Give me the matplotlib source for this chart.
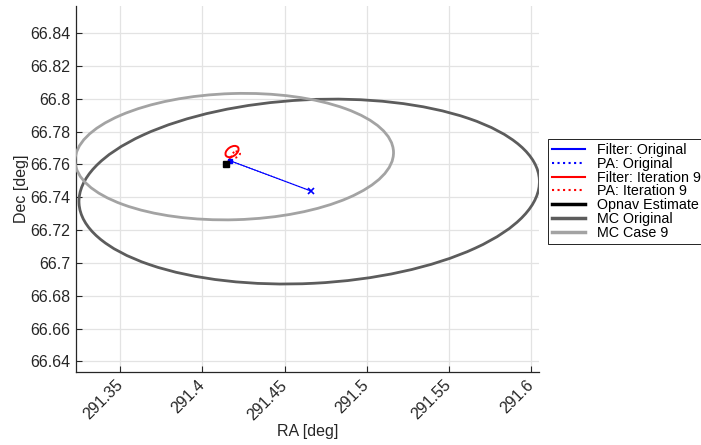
import numpy as np
import matplotlib
matplotlib.use('Agg')
from matplotlib import pyplot as plt
from matplotlib.patches import Ellipse
from matplotlib.lines import Line2D

plt.rcParams['font.family'] = ['Liberation Sans', 'DejaVu Sans']
plt.rcParams['font.size'] = 11.5

# MC covariance ellipses: center (RA, Dec) and covariance entries [xx, yy, xy]
mc_orig_center = [291.465, 66.7435]
mc_orig_cov = [0.01966, 0.003175, 0.000841]
mc_case9_center = [291.4194, 66.7648]
mc_case9_cov = [0.0094, 0.001486, 0.000233]

# filter / prediction tracks
filt_orig_ra = [291.4165, 291.4662]
filt_orig_dec = [66.7624, 66.7438]
pa_orig_ra = [291.4165, 291.4662]
pa_orig_dec = [66.7624, 66.7438]
filt_it9_ra = [291.4150, 291.4163, 291.4176]
filt_it9_dec = [66.7612, 66.7630, 66.7650]
filt_it9_center = [291.4180, 66.7679]
filt_it9_cov = [1.6e-5, 1.18e-5, 5.7e-6]
pa_it9_center = [291.4202, 66.7660]
pa_it9_cov = [7.0e-6, 4.0e-6, 2.0e-6]

opnav_ra = [291.4146]
opnav_dec = [66.7603]

xticks = [291.35, 291.4, 291.45, 291.5, 291.55, 291.6]
yticks = [66.64, 66.66, 66.68, 66.7, 66.72, 66.74, 66.76, 66.78, 66.8, 66.82, 66.84]


def cov_ellipse(center, cov, **kw):
    S = np.array([[cov[0], cov[2]], [cov[2], cov[1]]])
    vals, vecs = np.linalg.eigh(S)
    ang = np.degrees(np.arctan2(vecs[1, 1], vecs[0, 1]))
    return Ellipse(center, 2 * np.sqrt(vals[1]), 2 * np.sqrt(vals[0]),
                   angle=ang, fill=False, **kw)


fig = plt.figure(figsize=(7.01, 4.45), dpi=100)
ax = fig.add_axes([0.108, 0.1647, 0.661, 0.8218])

c_dark = '#5c5c5c'
c_light = '#a3a3a3'

ax.add_patch(cov_ellipse(mc_orig_center, mc_orig_cov, color=c_dark, lw=2.0, zorder=3))
ax.add_patch(cov_ellipse(mc_case9_center, mc_case9_cov, color=c_light, lw=2.0, zorder=3))

ax.plot(filt_orig_ra, filt_orig_dec, '-', color='blue', lw=0.8, zorder=4)
ax.plot(pa_orig_ra, pa_orig_dec, ':', color='blue', lw=0.8, zorder=4)
ax.plot(filt_orig_ra[-1:], filt_orig_dec[-1:], 'x', color='blue', ms=4, mew=1.2, zorder=4)
ax.plot(filt_orig_ra[:1], filt_orig_dec[:1], 's', color='blue', ms=3, zorder=5)

ax.plot(filt_it9_ra, filt_it9_dec, '-', color='red', lw=1.0, zorder=4)
ax.add_patch(cov_ellipse(filt_it9_center, filt_it9_cov, color='red', lw=1.4, zorder=4))
ax.add_patch(cov_ellipse(pa_it9_center, pa_it9_cov, color='red', lw=1.4, ls=':', zorder=4))

ax.plot(opnav_ra, opnav_dec, 's', color='black', ms=4, zorder=6)

ax.set_xlim(291.3228, 291.605)
ax.set_ylim(66.6337, 66.8566)
ax.set_xticks(xticks)
ax.set_xticklabels([f'{v:g}' for v in xticks], rotation=45, ha='right',
                   va='center', rotation_mode='anchor')
ax.set_yticks(yticks)
ax.set_yticklabels([f'{v:g}' for v in yticks])
ax.tick_params(direction='in', length=4, width=0.8, colors='#262626', pad=4)
ax.tick_params(axis='x', pad=8)
ax.grid(True, color='#e3e3e3', lw=0.9)
ax.set_axisbelow(True)
for s in ['top', 'right']:
    ax.spines[s].set_visible(False)
for s in ['left', 'bottom']:
    ax.spines[s].set_color('#262626')
    ax.spines[s].set_linewidth(0.9)

ax.set_xlabel('RA [deg]', color='#262626', labelpad=1)
ax.set_ylabel('Dec [deg]', color='#262626', labelpad=1)

handles = [
    Line2D([], [], color='blue', lw=1.5),
    Line2D([], [], color='blue', lw=1.5, ls=':'),
    Line2D([], [], color='red', lw=1.5),
    Line2D([], [], color='red', lw=1.5, ls=':'),
    Line2D([], [], color='black', lw=2.5),
    Line2D([], [], color=c_dark, lw=2.5),
    Line2D([], [], color=c_light, lw=2.5),
]
labels = ['Filter: Original', 'PA: Original', 'Filter: Iteration 9', 'PA: Iteration 9',
          'Opnav Estimate', 'MC Original', 'MC Case 9']
leg = fig.legend(handles, labels, loc='upper left', bbox_to_anchor=(0.7817, 0.6876),
                 bbox_transform=fig.transFigure, borderaxespad=0, fancybox=False,
                 framealpha=1, edgecolor='black', labelspacing=-0.02, borderpad=0.3,
                 handlelength=2.3, handletextpad=0.8, fontsize=10.3)
leg.get_frame().set_linewidth(0.6)

fig.savefig('out.png', dpi=100)
